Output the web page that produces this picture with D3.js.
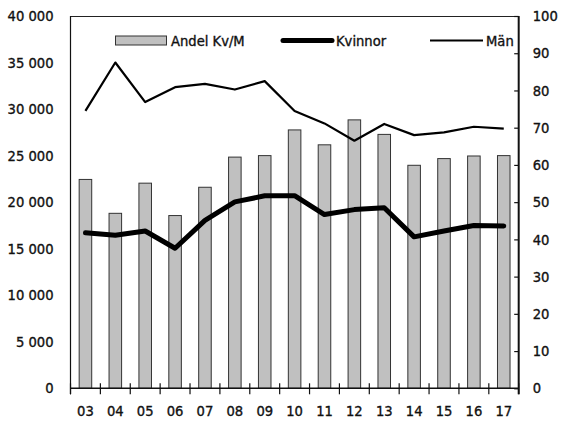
<!DOCTYPE html>
<html><head><meta charset="utf-8">
<script src="https://cdn.jsdelivr.net/npm/d3@7"></script>
<style>
html,body{margin:0;padding:0;background:#fff;}
svg text{font-family:"DejaVu Sans Condensed","DejaVu Sans",sans-serif;font-stretch:condensed;font-size:14.6px;fill:#111;stroke:#111;stroke-width:0.35px;}
</style></head>
<body>
<svg id="c" width="562" height="421"></svg>
<script>
const years = ["03","04","05","06","07","08","09","10","11","12","13","14","15","16","17"];
const andel = [56.1,47.0,55.1,46.4,54.0,62.1,62.5,69.4,65.4,72.1,68.2,59.9,61.7,62.4,62.5];
const kvinnor = [16700,16450,16900,15050,18050,20030,20680,20700,18670,19200,19400,16270,16900,17500,17450];
const man = [29800,35000,30750,32350,32700,32100,33000,29800,28460,26600,28400,27200,27500,28100,27900];
const leftTicks = [0,5000,10000,15000,20000,25000,30000,35000,40000];
const rightTicks = [0,10,20,30,40,50,60,70,80,90,100];
const legendLabels = ["Andel Kv/M","Kvinnor","Män"];

const svg = d3.select("#c");
const L = 70.5, R = 518.7, T = 16, B = 388.3;
const x = d3.scaleBand().domain(years).range([L, R]).padding(0);
const yL = d3.scaleLinear().domain([0,40000]).range([B, T]);
const yR = d3.scaleLinear().domain([0,100]).range([B, T]);
const fmt = v => d3.format(",")(v).replace(/,/g, " ");

// top border
svg.append("line").attr("x1",L).attr("x2",R).attr("y1",T+0.5).attr("y2",T+0.5).attr("stroke","#222").attr("stroke-width",1);

// bars
const bw = x.bandwidth()*0.42;
svg.append("g").selectAll("rect").data(andel).join("rect")
  .attr("x",(d,i)=>x(years[i])+x.bandwidth()/2-bw/2)
  .attr("y",d=>yR(d))
  .attr("width",bw)
  .attr("height",d=>B-yR(d))
  .attr("fill","#c0c0c0").attr("stroke","#333").attr("stroke-width",1);

// left axis
const gL = svg.append("g").attr("transform",`translate(${L},0)`)
  .call(d3.axisLeft(yL).tickValues(leftTicks).tickSize(0).tickPadding(17).tickFormat(fmt));
gL.select(".domain").attr("stroke","#111").attr("stroke-width",1.2).attr("d",`M0,${T}V${B+6}`);
gL.selectAll("text").attr("fill","#111");

// right axis
const gR = svg.append("g").attr("transform",`translate(${R},0)`)
  .call(d3.axisRight(yR).tickValues(rightTicks).tickSize(-4.5).tickPadding(14));
gR.select(".domain").attr("stroke","#111").attr("stroke-width",2).attr("d",`M0,${T}V${B+6}`);
gR.selectAll(".tick line").attr("stroke","#111").attr("stroke-width",1.2);
gR.selectAll("text").attr("fill","#111").attr("x",14);

// bottom axis
const gB = svg.append("g").attr("transform",`translate(0,${B})`)
  .call(d3.axisBottom(x).tickSize(0).tickPadding(17));
gB.select(".domain").attr("stroke","#111").attr("stroke-width",1.5).attr("d",`M${L},0H${R}`);
gB.selectAll("text").attr("fill","#111");
// boundary ticks (crossing)
const bounds = years.map(c=>x(c)).concat([R]);
svg.append("g").selectAll("line").data(bounds).join("line")
  .attr("x1",d=>d).attr("x2",d=>d).attr("y1",B-5).attr("y2",B+6)
  .attr("stroke","#111").attr("stroke-width",1.2);

// lines
const cx = (d,i)=>x(years[i])+x.bandwidth()/2;
svg.append("path").datum(man)
  .attr("d",d3.line().x(cx).y(d=>yL(d)))
  .attr("fill","none").attr("stroke","#000").attr("stroke-width",2.2).attr("stroke-linejoin","round");
svg.append("path").datum(kvinnor)
  .attr("d",d3.line().x(cx).y(d=>yL(d)))
  .attr("fill","none").attr("stroke","#000").attr("stroke-width",5).attr("stroke-linejoin","round").attr("stroke-linecap","round");

// legend
const lg = svg.append("g");
const ly = 40.5;
lg.append("rect").attr("x",115.5).attr("y",ly-4.5).attr("width",51).attr("height",9)
  .attr("fill","#c0c0c0").attr("stroke","#333").attr("stroke-width",1);
lg.append("text").attr("x",171).attr("y",ly).attr("dy","0.36em").text(legendLabels[0]);
lg.append("line").attr("x1",283).attr("x2",332).attr("y1",ly).attr("y2",ly)
  .attr("stroke","#000").attr("stroke-width",5).attr("stroke-linecap","round");
lg.append("text").attr("x",336).attr("y",ly).attr("dy","0.36em").text(legendLabels[1]);
lg.append("line").attr("x1",430).attr("x2",483).attr("y1",ly).attr("y2",ly)
  .attr("stroke","#000").attr("stroke-width",2);
lg.append("text").attr("x",486).attr("y",ly).attr("dy","0.36em").text(legendLabels[2]);
</script>
</body></html>
